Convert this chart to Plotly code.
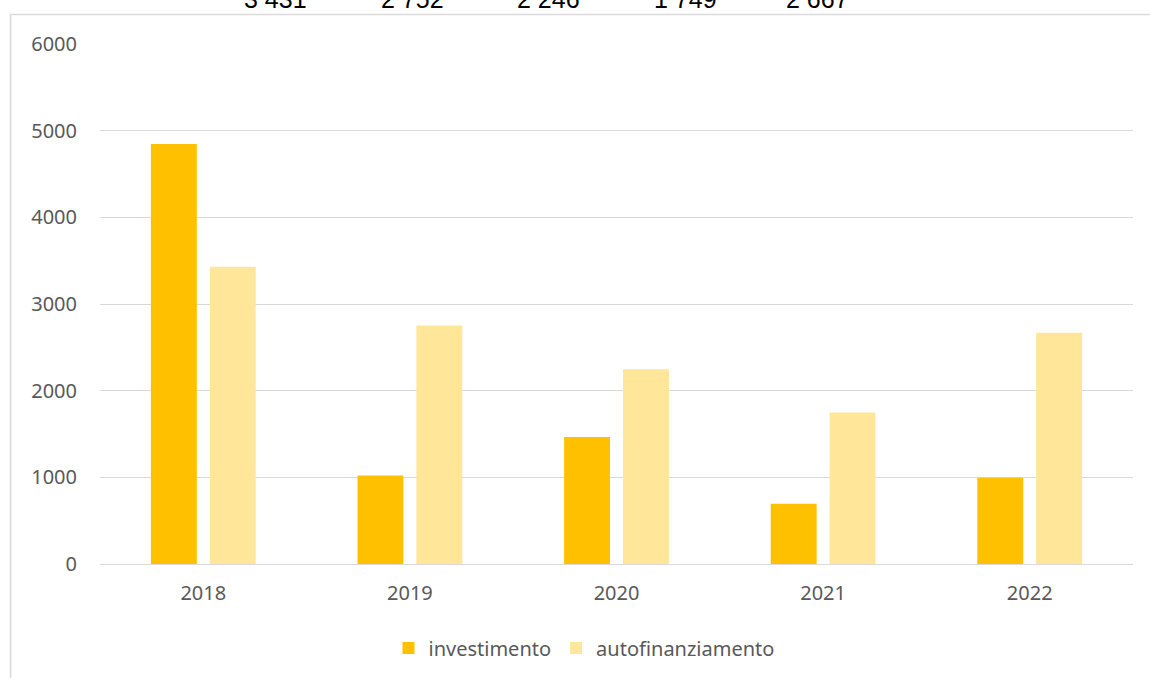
import plotly.graph_objects as go

years = ["2018", "2019", "2020", "2021", "2022"]
investimento = [4845, 1020, 1465, 695, 995]
autofinanziamento = [3431, 2752, 2246, 1749, 2667]
top_labels = ["3 431", "2 752", "2 246", "1 749", "2 667"]
y_ticks = [0, 1000, 2000, 3000, 4000, 5000, 6000]

L, R, T, B = 100, 17, 44, 113
W, H = 1150, 678
pw = W - L - R
ph = H - T - B

def px(x):
    return (x - L) / pw

def py(y):
    return (H - B - y) / ph

fig = go.Figure()
fig.add_trace(go.Bar(x=years, y=investimento, name="investimento",
                     marker=dict(color="#FFC000", line=dict(width=0))))
fig.add_trace(go.Bar(x=years, y=autofinanziamento, name="autofinanziamento",
                     marker=dict(color="#FFE699", line=dict(width=0))))

# outer chart border
fig.add_shape(type="rect", xref="paper", yref="paper",
              x0=px(10.5), x1=px(1170), y0=py(700), y1=py(14.5),
              line=dict(color="#D9D9D9", width=1.5), layer="below")

# labels clipped at the top edge
label_x = [275, 412, 548, 685, 817]
for lx, t in zip(label_x, top_labels):
    fig.add_annotation(x=px(lx), y=py(-1), xref="paper", yref="paper",
                       text=t, showarrow=False, xanchor="center", yanchor="middle",
                       font=dict(family="Liberation Sans, Arial", size=25, color="#000000"))

fig.update_layout(
    width=W, height=H,
    margin=dict(l=L, r=R, t=T, b=B),
    paper_bgcolor="white", plot_bgcolor="white",
    barmode="group", bargap=0.43, bargroupgap=0.22,
    font=dict(family="Noto Sans, Open Sans, sans-serif", size=20, color="#595959"),
    showlegend=True,
    legend=dict(orientation="h", x=px(584), xanchor="center", y=py(648), yanchor="middle",
                font=dict(size=20, color="#595959"), itemsizing="constant",
                traceorder="normal", itemwidth=30),
    xaxis=dict(showgrid=False, showline=True, linecolor="#D9D9D9", linewidth=1,
               ticks="", ticklabelstandoff=11, tickfont=dict(size=20, color="#595959")),
    yaxis=dict(range=[0, 6000], tickvals=y_ticks, showgrid=True, gridcolor="#D9D9D9",
               gridwidth=1, zeroline=True, zerolinecolor="#D9D9D9", zerolinewidth=1,
               showline=False, ticks="", ticklabelstandoff=22,
               tickfont=dict(size=20, color="#595959")),
)

fig.write_html("out.html", config={"displayModeBar": False},
               post_script="document.body.style.margin='0';")
